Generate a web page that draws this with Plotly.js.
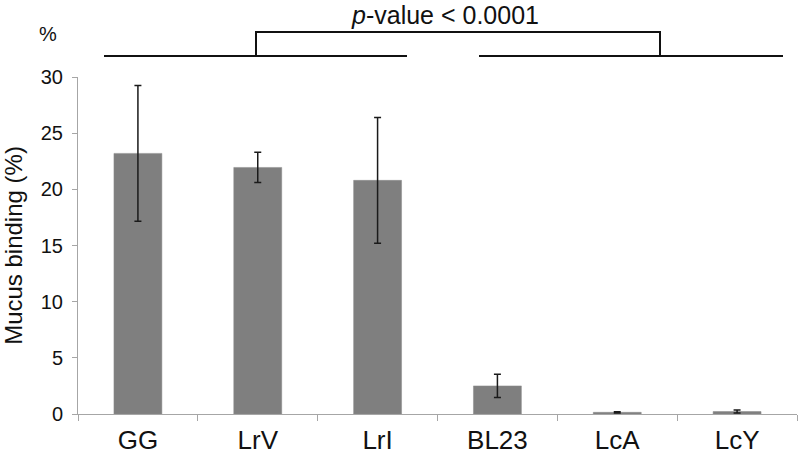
<!DOCTYPE html>
<html>
<head>
<meta charset="utf-8">
<script src="https://cdn.plot.ly/plotly-3.0.1.min.js"></script>
<style>html,body{margin:0;padding:0;background:#fff;}#chart{width:800px;height:454px;}</style>
</head>
<body>
<div id="chart"></div>
<script>
const categories = ["GG", "LrV", "LrI", "BL23", "LcA", "LcY"];
const binding = [23.2, 21.95, 20.8, 2.5, 0.15, 0.22];
const errors = [6.05, 1.35, 5.6, 1.03, 0.05, 0.14];
const yTicks = [0, 5, 10, 15, 20, 25, 30];

const W = 800, H = 454;
const L = 78, R = 797, T = 77, B = 414;
const px = x => (x - L) / (R - L);
const py = y => (B - y) / (B - T);

const trace = {
  type: "bar",
  x: categories,
  y: binding,
  marker: {color: "#7f7f7f", line: {color: "#8a8a8a", width: 0.5}},
  error_y: {type: "data", array: errors, visible: true, color: "#1a1a1a", thickness: 1.5, width: 3.5},
  hoverinfo: "x+y"
};

const lineStyle = {color: "#111", width: 2};
const layout = {
  width: W, height: H,
  margin: {l: L, r: W - R, t: T, b: H - B, pad: 0},
  paper_bgcolor: "#fff", plot_bgcolor: "#fff",
  font: {family: "Liberation Sans, Arial, sans-serif", color: "#111"},
  showlegend: false,
  bargap: 0.6,
  xaxis: {
    type: "category",
    showline: true, linecolor: "#a6a6a6", linewidth: 1,
    ticks: "outside", tickson: "boundaries", ticklen: 6, tickcolor: "#a6a6a6",
    ticklabelstandoff: 3,
    tickfont: {size: 26, color: "#111"},
    showgrid: false, zeroline: false, fixedrange: true
  },
  yaxis: {
    range: [0, 30],
    tickvals: yTicks,
    showline: true, linecolor: "#a6a6a6", linewidth: 1,
    ticks: "outside", ticklen: 5, tickcolor: "#a6a6a6",
    ticklabelstandoff: 5,
    tickfont: {size: 20, color: "#111"},
    showgrid: false, zeroline: false,
    title: {text: "Mucus binding (%)", font: {size: 24, color: "#111"}, standoff: 14}
  },
  shapes: [
    {type: "line", xref: "paper", yref: "paper", x0: px(104), x1: px(407), y0: py(56), y1: py(56), line: lineStyle},
    {type: "line", xref: "paper", yref: "paper", x0: px(479), x1: px(783), y0: py(56), y1: py(56), line: lineStyle},
    {type: "path", xref: "paper", yref: "paper",
     path: "M " + px(256) + " " + py(56) + " L " + px(256) + " " + py(32) + " L " + px(660) + " " + py(32) + " L " + px(660) + " " + py(56),
     line: lineStyle}
  ],
  annotations: [
    {xref: "paper", yref: "paper", x: px(445), y: py(15), text: "<i>p</i>-value &lt; 0.0001", showarrow: false,
     font: {size: 25, color: "#111"}, xanchor: "center", yanchor: "middle"},
    {xref: "paper", yref: "paper", x: px(48), y: py(34), text: "%", showarrow: false,
     font: {size: 20, color: "#111"}, xanchor: "center", yanchor: "middle"}
  ]
};

Plotly.newPlot("chart", [trace], layout, {displayModeBar: false, staticPlot: true});
</script>
</body>
</html>
